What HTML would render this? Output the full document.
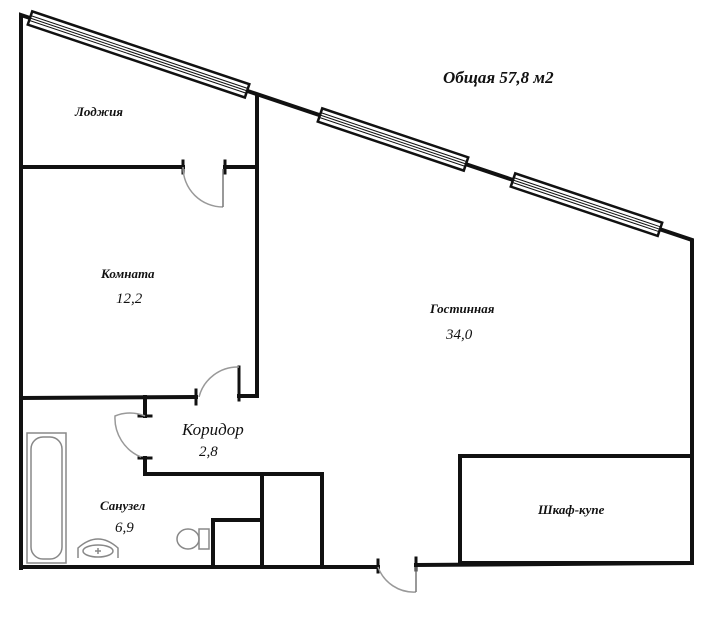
<!DOCTYPE html>
<html><head><meta charset="utf-8"><style>
html,body{margin:0;padding:0;background:#fff;width:709px;height:626px;overflow:hidden}
svg{display:block}
text{font-family:"Liberation Serif","DejaVu Serif",serif;fill:#111;font-style:italic}
.b{font-weight:bold}
</style></head><body>
<svg width="709" height="626" viewBox="0 0 709 626" xmlns="http://www.w3.org/2000/svg">
<g stroke="#111" stroke-width="4" fill="none" stroke-linecap="square">
<!-- outer -->
<polyline points="21,568 21,15 692,240 692,563"/>
<line x1="21" y1="567" x2="378" y2="567"/>
<line x1="416" y1="565" x2="692" y2="563"/>
<line x1="378" y1="560" x2="378" y2="572" stroke-width="3"/>
<line x1="416" y1="558" x2="416" y2="570" stroke-width="3"/>
<!-- loggia -->
<line x1="21" y1="167" x2="183" y2="167"/>
<line x1="183" y1="161" x2="183" y2="173" stroke-width="3"/>
<line x1="225" y1="167" x2="257" y2="167"/>
<line x1="225" y1="161" x2="225" y2="173" stroke-width="3"/>
<line x1="257" y1="95" x2="257" y2="396"/>
<!-- komnata bottom -->
<line x1="21" y1="398" x2="196" y2="397"/>
<line x1="196" y1="390" x2="196" y2="404" stroke-width="3"/>
<line x1="239" y1="396" x2="257" y2="396"/>
<line x1="239" y1="367" x2="239" y2="400" stroke-width="3"/>
<!-- corridor -->
<line x1="145" y1="397" x2="145" y2="416"/>
<line x1="139" y1="416" x2="151" y2="416" stroke-width="3"/>
<polyline points="145,458 145,474 322,474 322,567"/>
<line x1="139" y1="458" x2="151" y2="458" stroke-width="3"/>
<line x1="262" y1="474" x2="262" y2="567"/>
<polyline points="213,567 213,520 262,520"/>
<!-- shkaf -->
<rect x="460" y="456" width="232" height="107"/>
</g>
<!-- door arcs -->
<g stroke="#999" stroke-width="1.5" fill="none">
<path d="M183,167 A40,40 0 0 0 223,207"/>
<line x1="223" y1="207" x2="223" y2="169" stroke="#777"/>
<path d="M239,367 A40,40 0 0 0 199,397"/>
<path d="M145,416 A40,40 0 0 0 115,416 A42,42 0 0 0 141,457"/>
<path d="M378,567 A38,38 0 0 0 416,592"/>
<line x1="416" y1="592" x2="416" y2="567" stroke="#777"/>
</g>
<!-- windows -->
<g stroke="#111" fill="#fff">
<g transform="translate(30,18) rotate(18.55)">
<rect x="0" y="-7" width="229" height="14" stroke-width="2.5"/>
<line x1="0" y1="-2.5" x2="229" y2="-2.5" stroke-width="1"/><line x1="0" y1="0" x2="229" y2="0" stroke-width="1"/><line x1="0" y1="2.5" x2="229" y2="2.5" stroke-width="1"/>
</g>
<g transform="translate(320,115) rotate(18.55)">
<rect x="0" y="-7" width="154" height="14" stroke-width="2.5"/>
<line x1="0" y1="-2.5" x2="154" y2="-2.5" stroke-width="1"/><line x1="0" y1="0" x2="154" y2="0" stroke-width="1"/><line x1="0" y1="2.5" x2="154" y2="2.5" stroke-width="1"/>
</g>
<g transform="translate(513,180) rotate(18.55)">
<rect x="0" y="-7" width="155" height="14" stroke-width="2.5"/>
<line x1="0" y1="-2.5" x2="155" y2="-2.5" stroke-width="1"/><line x1="0" y1="0" x2="155" y2="0" stroke-width="1"/><line x1="0" y1="2.5" x2="155" y2="2.5" stroke-width="1"/>
</g>
</g>
<!-- fixtures -->
<g stroke="#888" stroke-width="1.5" fill="none">
<rect x="27" y="433" width="39" height="130"/>
<rect x="31" y="437" width="31" height="122" rx="12"/>
<path d="M78,558 L78,548 Q98,530 118,548 L118,558"/>
<ellipse cx="98" cy="551" rx="15" ry="6"/>
<path d="M98,548 v6 M95,551 h6"/>
<ellipse cx="188" cy="539" rx="11" ry="10"/>
<rect x="199" y="529" width="10" height="20"/>
</g>
<!-- labels -->
<text x="443" y="83" font-size="17" class="b">Общая 57,8 м2</text>
<text x="75" y="116" font-size="13" class="b">Лоджия</text>
<text x="101" y="278" font-size="13" class="b">Комната</text>
<text x="116" y="303" font-size="15">12,2</text>
<text x="430" y="313" font-size="13" class="b">Гостинная</text>
<text x="446" y="339" font-size="15">34,0</text>
<text x="182" y="435" font-size="17">Коридор</text>
<text x="199" y="456" font-size="15">2,8</text>
<text x="100" y="510" font-size="13" class="b">Санузел</text>
<text x="115" y="532" font-size="15">6,9</text>
<text x="538" y="514" font-size="13" class="b">Шкаф-купе</text>
</svg>
</body></html>
